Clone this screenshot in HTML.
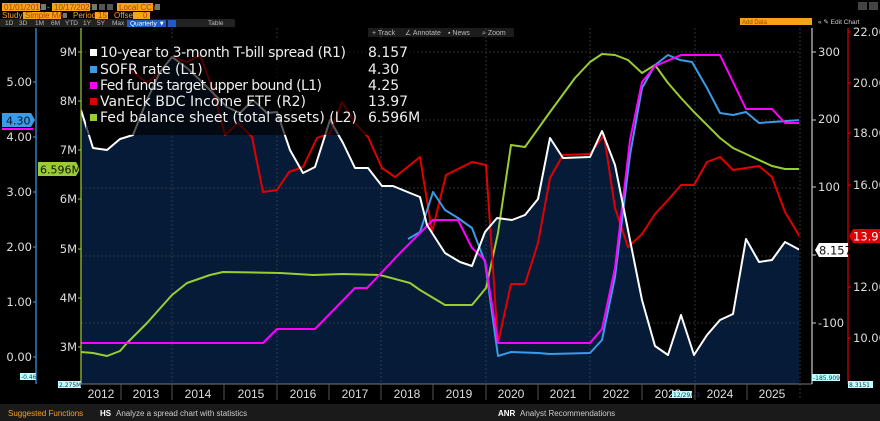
<!DOCTYPE html>
<html><head><meta charset="utf-8"><style>
html,body{margin:0;padding:0;background:#000;width:880px;height:421px;overflow:hidden}
svg{display:block;font-family:"DejaVu Sans","Liberation Sans",sans-serif}
</style></head><body>
<svg width="880" height="421" viewBox="0 0 880 421" xmlns="http://www.w3.org/2000/svg">
<rect width="880" height="421" fill="#000"/>
<!-- top controls -->
<g font-size="8" font-family="Liberation Sans, sans-serif">
<rect x="2" y="3" width="38" height="8" fill="#f7a21b"/><text x="4" y="10" fill="#a04a00">01/01/2012</text>
<rect x="41" y="4" width="5" height="6" fill="#777"/><text x="47" y="10" fill="#ccc">-</text>
<rect x="52" y="3" width="38" height="8" fill="#f7a21b"/><text x="54" y="10" fill="#a04a00">10/17/2025</text>
<rect x="92" y="4" width="5" height="6" fill="#777"/><rect x="99" y="4" width="6" height="6" fill="#555"/><rect x="107" y="4" width="6" height="6" fill="#555"/>
<rect x="117" y="3" width="36" height="8" fill="#f7a21b"/><text x="119" y="10" fill="#a04a00">Local CCY</text><rect x="155" y="4" width="5" height="6" fill="#777"/>
<text x="2" y="18" fill="#f7a21b">Study</text>
<rect x="23" y="12" width="38" height="7" fill="#f7a21b"/><text x="25" y="18" fill="#a04a00">Simple MA</text>
<rect x="63" y="13" width="4" height="5" fill="#777"/>
<text x="73" y="18" fill="#f7a21b">Period</text><rect x="95" y="12" width="13" height="7" fill="#f7a21b"/><text x="98" y="18" fill="#a04a00">15</text>
<text x="114" y="18" fill="#f7a21b">Offset</text><rect x="133" y="12" width="17" height="7" fill="#f7a21b"/><text x="143" y="18" fill="#a04a00">0</text>
<rect x="0" y="19" width="235" height="8" fill="#222"/>
<g fill="#bbb" font-size="6.5"><text x="5" y="25">1D</text><text x="19" y="25">3D</text><text x="35" y="25">1M</text><text x="51" y="25">6M</text><text x="65" y="25">YTD</text><text x="83" y="25">1Y</text><text x="97" y="25">5Y</text><text x="112" y="25">Max</text><text x="208" y="25">Table</text></g>
<rect x="127" y="20" width="39" height="7" fill="#1d5fbf"/><text x="130" y="25.5" fill="#fff" font-size="6.5">Quarterly ▼</text>
<rect x="168" y="20" width="8" height="7" fill="#1d5fbf"/>
<rect x="740" y="18" width="72" height="7" fill="#f7a21b"/><text x="742" y="24" fill="#a04a00" font-size="6">Add Data</text>
<text x="818" y="24" fill="#ccc" font-size="6.5">« ✎ Edit Chart</text>
<rect x="858" y="2" width="9" height="8" fill="#444"/><rect x="869" y="2" width="9" height="8" fill="#444"/>
<rect x="368" y="28" width="146" height="9" fill="#1c1c1c"/>
<g fill="#bbb" font-size="7"><text x="372" y="35">+ Track</text><text x="405" y="35">∠ Annotate</text><text x="448" y="35">▪ News</text><text x="482" y="35">⌕ Zoom</text></g>
</g>
<!-- plot fill area -->
<clipPath id="c"><rect x="81" y="28" width="718" height="356"/></clipPath>
<g clip-path="url(#c)">
<polygon fill="#061b38" points="81,384 81,110 93,148 107,150 120,139 133,135 147,100 160,72 172,57 187,68 200,80 213,93 227,107 240,113 253,100 267,113 277,112 290,150 303,173 315,167 330,120 343,143 355,168 368,168 382,186 393,186 410,193 420,197 427,225 445,253 460,262 472,266 485,232 497,218 512,220 525,215 538,199 550,138 563,158 590,157 602,131 615,165 630,240 642,300 655,346 668,355 681,315 694,355 707,335 720,320 733,314 746,239 759,262 772,260 785,242 800,250 800,384"/>
<!-- grid -->
<g stroke="#3a3f48" stroke-width="0.8" stroke-dasharray="2,2">
<line x1="81" y1="52" x2="810" y2="52"/><line x1="81" y1="120" x2="810" y2="120"/><line x1="81" y1="188" x2="810" y2="188"/><line x1="81" y1="256" x2="810" y2="256"/><line x1="81" y1="323" x2="810" y2="323"/>
<line x1="172" y1="28" x2="172" y2="384"/><line x1="277" y1="28" x2="277" y2="384"/><line x1="381" y1="28" x2="381" y2="384"/><line x1="486" y1="28" x2="486" y2="384"/><line x1="590" y1="28" x2="590" y2="384"/><line x1="695" y1="28" x2="695" y2="384"/>
</g>
<g fill="none" stroke-width="2" stroke-linejoin="round">
<polyline stroke="#9acd32" points="81,352 93,353 107,356 120,351 127,343 147,323 172,295 187,283 210,275 223,272 280,273 313,275 343,274 380,275 410,283 420,290 445,305 472,305 486,288 498,233 511,145 525,147 550,112 575,78 590,62 602,54 615,55 628,60 642,73 655,65 668,83 681,98 694,112 720,138 733,148 746,154 772,166 785,169 800,169"/>
<polyline stroke="#e00000" points="130,70 133,72 147,83 160,72 172,57 187,62 200,55 213,90 225,135 238,123 252,137 263,192 277,190 289,172 303,167 317,138 330,133 342,102 355,123 368,137 382,168 395,177 410,165 420,157 432,232 446,175 472,162 486,165 498,343 511,284 525,284 538,243 550,178 563,155 590,154 604,135 615,208 628,247 642,234 655,214 668,200 681,185 694,185 707,162 720,157 733,170 759,166 772,177 785,212 800,237"/>
<polyline stroke="#3a9be8" points="408,239 420,232 433,192 445,210 458,218 472,228 485,262 498,356 511,352 538,353 550,354 590,353 602,340 615,277 630,155 642,88 655,65 668,55 680,60 692,62 707,88 720,113 733,115 746,112 759,123 800,120"/>
<polyline stroke="#ff00ff" points="81,343 263,343 277,329 315,329 355,288 367,288 400,253 433,220 458,220 472,248 485,260 498,343 590,343 602,329 615,268 630,140 642,82 655,66 681,55 720,55 746,109 772,109 785,123 800,123"/>
<polyline stroke="#ffffff" points="81,110 93,148 107,150 120,139 133,135 147,100 160,72 172,57 187,68 200,80 213,93 227,107 240,113 253,100 267,113 277,112 290,150 303,173 315,167 330,120 343,143 355,168 368,168 382,186 393,186 410,193 420,197 427,225 445,253 460,262 472,266 485,232 497,218 512,220 525,215 538,199 550,138 563,158 590,157 602,131 615,165 630,240 642,300 655,346 668,355 681,315 694,355 707,335 720,320 733,314 746,239 759,262 772,260 785,242 800,250"/>
</g>
</g>
<line x1="800" y1="28" x2="800" y2="400" stroke="#333" stroke-dasharray="2,2"/>
<!-- legend -->
<rect x="86" y="40" width="332" height="95" fill="rgba(0,0,0,0.65)"/>
<g font-size="14" fill="#eee">
<rect x="90" y="49" width="7" height="7" fill="#fff"/><text x="100" y="57" textLength="246">10-year to 3-month T-bill spread (R1)</text><text x="368" y="57">8.157</text>
<rect x="90" y="66" width="7" height="7" fill="#3a9be8"/><text x="100" y="74">SOFR rate (L1)</text><text x="368" y="74">4.30</text>
<rect x="90" y="82" width="7" height="7" fill="#ff00ff"/><text x="100" y="90" textLength="222">Fed funds target upper bound (L1)</text><text x="368" y="90">4.25</text>
<rect x="90" y="98" width="7" height="7" fill="#e00000"/><text x="100" y="106" textLength="206">VanEck BDC Income ETF  (R2)</text><text x="368" y="106">13.97</text>
<rect x="90" y="114" width="7" height="7" fill="#9acd32"/><text x="100" y="122" textLength="257">Fed balance sheet (total assets) (L2)</text><text x="368" y="122">6.596M</text>
</g>
<!-- left axes -->
<line x1="36" y1="28" x2="36" y2="384" stroke="#3a9be8" stroke-width="1.2"/>
<line x1="81" y1="28" x2="81" y2="384" stroke="#9acd32" stroke-width="1.2"/>
<line x1="81" y1="384" x2="812" y2="384" stroke="#777"/>
<g font-size="11.5" fill="#ddd" text-anchor="end">
<text x="32" y="86">5.00</text><text x="32" y="141">4.00</text><text x="32" y="196">3.00</text><text x="32" y="251">2.00</text><text x="32" y="306">1.00</text><text x="32" y="361">0.00</text>
<text x="77" y="56">9M</text><text x="77" y="105">8M</text><text x="77" y="154">7M</text><text x="77" y="203">6M</text><text x="77" y="253">5M</text><text x="77" y="302">4M</text><text x="77" y="351">3M</text>
</g>
<g stroke="#3a9be8"><line x1="33" y1="82" x2="36" y2="82"/><line x1="33" y1="137" x2="36" y2="137"/><line x1="33" y1="192" x2="36" y2="192"/><line x1="33" y1="247" x2="36" y2="247"/><line x1="33" y1="302" x2="36" y2="302"/><line x1="33" y1="357" x2="36" y2="357"/></g>
<g stroke="#9acd32"><line x1="78" y1="52" x2="81" y2="52"/><line x1="78" y1="101" x2="81" y2="101"/><line x1="78" y1="150" x2="81" y2="150"/><line x1="78" y1="199" x2="81" y2="199"/><line x1="78" y1="249" x2="81" y2="249"/><line x1="78" y1="298" x2="81" y2="298"/><line x1="78" y1="347" x2="81" y2="347"/></g>
<polygon points="2,113 31,113 35,120 31,127 2,127" fill="#3a9be8"/><text x="6" y="124.5" font-size="11" fill="#111">4.30</text>
<line x1="2" y1="129" x2="33" y2="129" stroke="#ff00ff" stroke-width="2"/>
<polygon points="38,162 76,162 80,169 76,176 38,176" fill="#9acd32"/><text x="40" y="173.5" font-size="11" fill="#111">6.596M</text>
<rect x="20" y="373" width="16" height="7" fill="#bff"/><text x="21" y="379" font-size="6" fill="#335">-0.46</text>
<rect x="58" y="381" width="23" height="7" fill="#bff"/><text x="59" y="387" font-size="6" fill="#335">2.275M</text>
<!-- right axes -->
<line x1="812" y1="28" x2="812" y2="384" stroke="#ccc" stroke-width="1.2"/>
<line x1="848" y1="28" x2="848" y2="384" stroke="#e00000" stroke-width="1.2"/>
<g font-size="11.5" fill="#ddd">
<text x="818" y="56">300</text><text x="818" y="123">200</text><text x="818" y="191">100</text><text x="818" y="327">-100</text>
<text x="853" y="36">22.00</text><text x="853" y="87">20.00</text><text x="853" y="137">18.00</text><text x="853" y="189">16.00</text><text x="853" y="291">12.00</text><text x="853" y="342">10.00</text>
</g>
<g stroke="#ccc"><line x1="812" y1="52" x2="816" y2="52"/><line x1="812" y1="120" x2="816" y2="120"/><line x1="812" y1="187" x2="816" y2="187"/><line x1="812" y1="255" x2="816" y2="255"/><line x1="812" y1="323" x2="816" y2="323"/></g>
<g stroke="#e00000"><line x1="848" y1="32" x2="851" y2="32"/><line x1="848" y1="83" x2="851" y2="83"/><line x1="848" y1="133" x2="851" y2="133"/><line x1="848" y1="185" x2="851" y2="185"/><line x1="848" y1="287" x2="851" y2="287"/><line x1="848" y1="338" x2="851" y2="338"/></g>
<polygon points="815,250 819,243 848,243 848,257 819,257" fill="#fff"/><text x="819" y="254.5" font-size="11.5" fill="#111">8.157</text>
<polygon points="849,236 853,229 880,229 880,243 853,243" fill="#e00000"/><text x="853" y="240.5" font-size="11.5" fill="#fff">13.97</text>
<rect x="812" y="374" width="28" height="7" fill="#bff"/><text x="813" y="380" font-size="6" fill="#335">-185.909</text>
<rect x="848" y="381" width="25" height="7" fill="#bff"/><text x="849" y="387" font-size="6" fill="#335">8.3151</text>
<!-- x labels -->
<g font-size="12" fill="#ddd" text-anchor="middle" font-family="Liberation Sans, sans-serif">
<text x="101" y="398">2012</text><text x="146" y="398">2013</text><text x="198" y="398">2014</text><text x="251" y="398">2015</text><text x="303" y="398">2016</text><text x="355" y="398">2017</text><text x="407" y="398">2018</text><text x="459" y="398">2019</text><text x="511" y="398">2020</text><text x="563" y="398">2021</text><text x="616" y="398">2022</text><text x="668" y="398">2023</text><text x="720" y="398">2024</text><text x="772" y="398">2025</text>
</g>
<g stroke="#555"><line x1="121" y1="384" x2="121" y2="400"/><line x1="172" y1="384" x2="172" y2="400"/><line x1="224" y1="384" x2="224" y2="400"/><line x1="277" y1="384" x2="277" y2="400"/><line x1="329" y1="384" x2="329" y2="400"/><line x1="381" y1="384" x2="381" y2="400"/><line x1="433" y1="384" x2="433" y2="400"/><line x1="486" y1="384" x2="486" y2="400"/><line x1="538" y1="384" x2="538" y2="400"/><line x1="590" y1="384" x2="590" y2="400"/><line x1="642" y1="384" x2="642" y2="400"/><line x1="695" y1="384" x2="695" y2="400"/><line x1="747" y1="384" x2="747" y2="400"/></g>
<rect x="672" y="391" width="20" height="7" fill="#bff"/><text x="673" y="397" font-size="6" fill="#335">12/29/23</text>
<!-- bottom bar -->
<rect x="0" y="404" width="880" height="17" fill="#1a1a1a"/>
<g font-size="8" font-family="Liberation Sans, sans-serif">
<text x="8" y="416" fill="#f7a21b">Suggested Functions</text>
<text x="100" y="416" fill="#fff" font-weight="bold">HS</text><text x="116" y="416" fill="#ccc">Analyze a spread chart with statistics</text>
<text x="498" y="416" fill="#fff" font-weight="bold">ANR</text><text x="520" y="416" fill="#ccc">Analyst Recommendations</text>
</g>
</svg>
</body></html>
